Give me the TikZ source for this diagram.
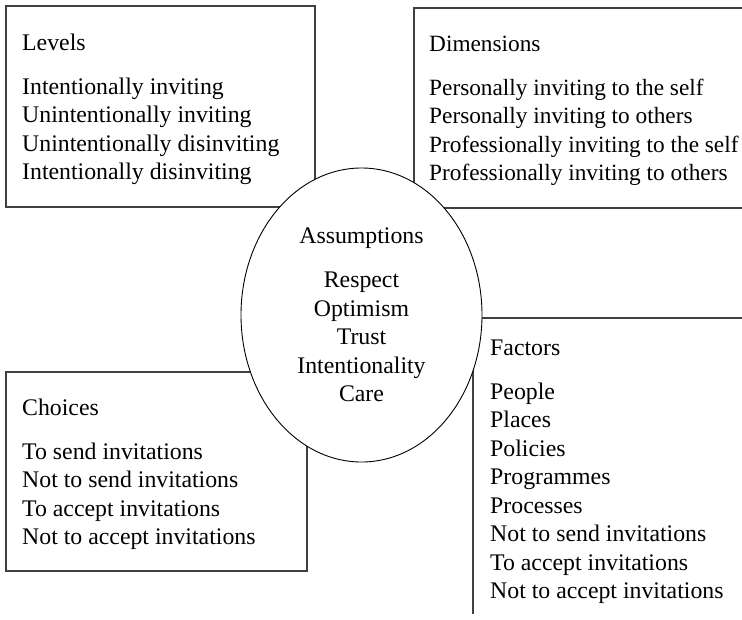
\documentclass[tikz,border=0pt]{standalone}
\usepackage{fontspec}
\setmainfont{Liberation Serif}
\usetikzlibrary{shapes.geometric}
\begin{document}
\begin{tikzpicture}[x=1pt,y=-1pt]
  \tikzstyle{cadre}=[draw=black!75,line width=1.2pt]
  \tikzstyle{liste}=[align=left,anchor=base west,inner sep=0pt,font=\fontsize{23.8}{28.5}\selectfont]
  \useasboundingbox (0,0) rectangle (742,619);
  % les cadres
  \draw[cadre] (6,6) rectangle (315,207);
  \draw[cadre] (742,8) -| (414,208) -- (742,208);
  \draw[cadre] (6,372) rectangle (307,571);
  \draw[cadre] (742,318) -| (473,614);
  % base = ligne du bas
  \node[liste] (niveaux) at (22,179.5) {Levels\\[15.5pt]Intentionally inviting\\Unintentionally inviting\\Unintentionally disinviting\\Intentionally disinviting};
  \node[liste,font=\fontsize{23.3}{28.5}\selectfont] (dimensions) at (429,180.5) {Dimensions\\[15.5pt]Personally inviting to the self\\Personally inviting to others\\Professionally inviting to the self\\Professionally inviting to others};
  \node[liste] (choix) at (22,544.5) {Choices\\[15.5pt]To send invitations\\Not to send invitations\\To accept invitations\\Not to accept invitations};
  \node[liste] (facteurs) at (490,598.5) {Factors\\[15.5pt]People\\Places\\Policies\\Programmes\\Processes\\Not to send invitations\\To accept invitations\\Not to accept invitations};
  % l'ellipse au milieu
  \node[ellipse,draw,fill=white,line width=0.9pt,minimum width=241pt,minimum height=294pt,inner sep=0pt,align=center,font=\fontsize{23.8}{28.5}\selectfont] (hypotheses) at (361.5,315) {Assumptions\\[15.5pt]Respect\\Optimism\\Trust\\Intentionality\\Care};
\end{tikzpicture}
\end{document}
